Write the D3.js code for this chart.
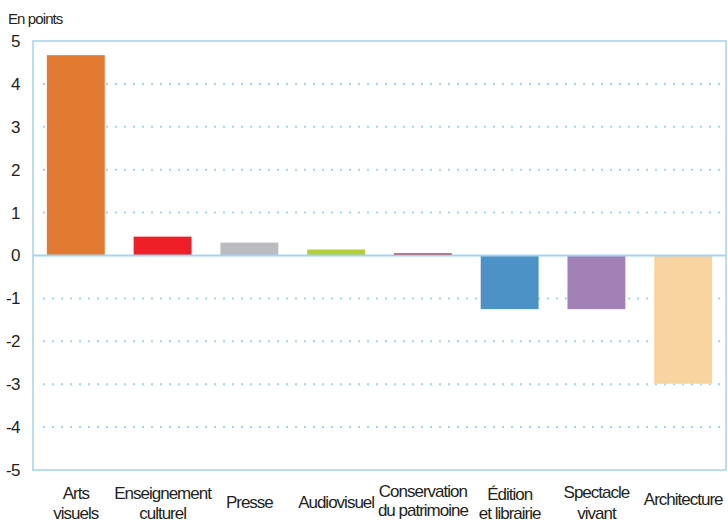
<!DOCTYPE html>
<html><head><meta charset="utf-8">
<script src="https://cdn.jsdelivr.net/npm/d3@7"></script>
<style>
body{margin:0;background:#fff;}
text{font-family:"Liberation Sans",Arial,sans-serif;fill:#231f20;}
</style></head>
<body><svg id="c" width="728" height="523"></svg>
<script>
const categories = ["Arts visuels","Enseignement culturel","Presse","Audiovisuel","Conservation du patrimoine","Édition et librairie","Spectacle vivant","Architecture"];
const labelLines = [["Arts","visuels"],["Enseignement","culturel"],["Presse"],["Audiovisuel"],["Conservation","du patrimoine"],["Édition","et librairie"],["Spectacle","vivant"],["Architecture"]];
const values = [4.67, 0.44, 0.30, 0.14, 0.05, -1.25, -1.25, -2.99];
const colors = ["#e27a31","#ee1f27","#bbbcbf","#b2cf3b","#b8232c","#4c92c6","#a282b6","#f8d4a0"];
const yTicks = [5,4,3,2,1,0,-1,-2,-3,-4,-5];
const unitLabel = "En points";

const svg = d3.select("#c");
const L=33, R=726, T=41, B=470;
const x = d3.scaleBand().domain(categories).range([L,R]).paddingInner(0.333).paddingOuter(0.16);
const y = d3.scaleLinear().domain([-5,5]).range([B,T]);
const frame = "#a3d4f1";

// grid
svg.append("g").selectAll("line").data(yTicks.filter(d=>d!==0 && d!==5 && d!==-5)).join("line")
  .attr("x1",L+10).attr("x2",R).attr("y1",d=>y(d)).attr("y2",d=>y(d))
  .attr("stroke",frame).attr("stroke-width",2).attr("stroke-dasharray","2,7");

// bars
svg.append("g").selectAll("rect").data(values).join("rect")
  .attr("x",(d,i)=>x(categories[i])).attr("width",x.bandwidth())
  .attr("y",d=>y(Math.max(0,d))).attr("height",d=>Math.abs(y(d)-y(0)))
  .attr("fill",(d,i)=>colors[i]);

// frame
svg.append("rect").attr("x",L).attr("y",T).attr("width",R-L).attr("height",B-T)
  .attr("fill","none").attr("stroke",frame).attr("stroke-width",1.5);
svg.append("line").attr("x1",L).attr("x2",R).attr("y1",y(0)).attr("y2",y(0))
  .attr("stroke",frame).attr("stroke-width",2);

// y axis labels
const yAxis = d3.axisLeft(y).tickValues(yTicks).tickFormat(d=>String(d)).tickSize(0).tickPadding(13);
const ga = svg.append("g").attr("transform",`translate(${L},0)`).call(yAxis);
ga.select(".domain").remove();
ga.selectAll("text").attr("font-size",17).attr("fill","#231f20").attr("letter-spacing",-0.5)
  .style("font-family","'Liberation Sans',Arial,sans-serif");

svg.append("text").attr("x",8).attr("y",24).attr("font-size",15).attr("letter-spacing",-0.9).text(unitLabel);

// x labels
const baseTwo = [499,499,0,0,497,500,498,0];
const gapTwo = [20,20,0,0,19,19,21,0];
const baseOne = 508;
const xl = svg.append("g");
labelLines.forEach((lines,i)=>{
  const cx = x(categories[i])+x.bandwidth()/2;
  const t = xl.append("text").attr("text-anchor","middle").attr("font-size",17).attr("letter-spacing",-1);
  if(lines.length===1){
    t.append("tspan").attr("x",cx).attr("y",i===7?505:baseOne).text(lines[0]);
  } else {
    t.append("tspan").attr("x",cx).attr("y",baseTwo[i]).text(lines[0]);
    t.append("tspan").attr("x",cx).attr("y",baseTwo[i]+gapTwo[i]).text(lines[1]);
  }
});
</script></body></html>
